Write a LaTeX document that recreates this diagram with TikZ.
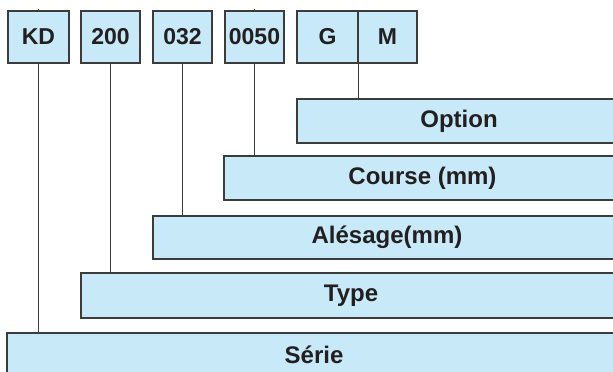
\documentclass[tikz,border=0pt]{standalone}
\usepackage{fontspec}
\setmainfont{Liberation Sans}
\definecolor{boxfill}{HTML}{C7E9F8}
\definecolor{boxline}{HTML}{3C3C3C}
\definecolor{txt}{HTML}{231F20}
\begin{document}
\begin{tikzpicture}[x=1pt,y=-1pt,
  codebox/.style={draw=boxline,fill=boxfill,line width=1.2pt,inner sep=0pt,
    minimum height=52pt,text=txt,font=\fontsize{23}{23}\selectfont\bfseries},
  labelbox/.style={draw=boxline,fill=boxfill,line width=1.2pt,inner sep=0pt,
    text=txt,font=\fontsize{24}{24}\selectfont\bfseries},
  link/.style={draw=boxline,line width=1.2pt}]
\clip (0,0) rectangle (613,372);
\coordinate (kdtop) at (38.5,9);
\coordinate (cstop) at (254.5,9);
% bottom label boxes
\node[labelbox,minimum width=324pt,minimum height=44pt] (option) at (459,121) {Option};
\node[labelbox,minimum width=397pt,minimum height=44pt] (course) at (422.5,178) {Course (mm)};
\node[labelbox,minimum width=468pt,minimum height=43pt] (alesage) at (387,237.5) {Alésage(mm)};
\node[labelbox,minimum width=540pt,minimum height=45pt] (type) at (351,295.5) {Type};
\node[labelbox,minimum width=614pt,minimum height=44pt] (serie) at (314,355) {Série};
% top code boxes
\node[codebox,minimum width=61pt] (kd) at (38.5,37) {KD};
\node[codebox,minimum width=59pt] (t200) at (110.5,37) {200};
\node[codebox,minimum width=59pt] (t032) at (182.5,37) {032};
\node[codebox,minimum width=59pt] (t0050) at (254.5,37) {0050};
\node[codebox,minimum width=61pt] (tg) at (327.5,37) {G};
\node[codebox,minimum width=59pt] (tm) at (387.5,37) {M};
% connectors
\draw[link] (kdtop) -- (kd.north);
\draw[link] (cstop) -- (t0050.north);
\draw[link] (kd.south) -- (kd.south |- serie.north);
\draw[link] (t200.south) -- (t200.south |- type.north);
\draw[link] (t032.south) -- (t032.south |- alesage.north);
\draw[link] (t0050.south) -- (t0050.south |- course.north);
\draw[link] (tg.south east) -- (tg.south east |- option.north);
\end{tikzpicture}
\end{document}
